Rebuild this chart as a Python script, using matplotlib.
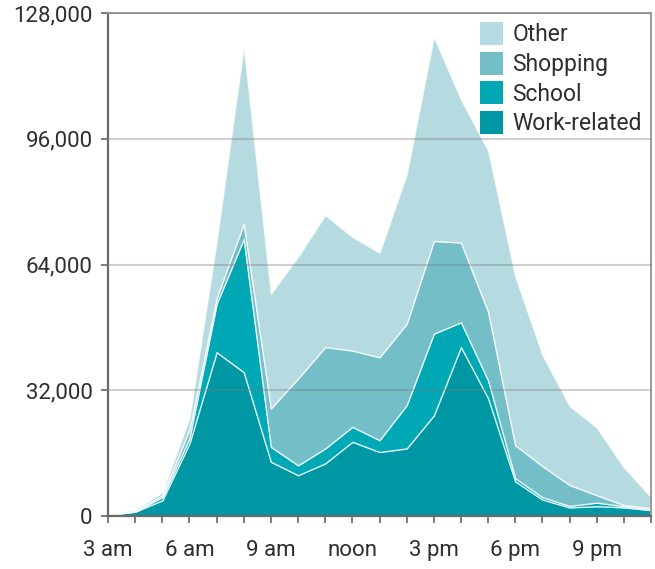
import matplotlib
matplotlib.use("Agg")
import matplotlib.pyplot as plt
from matplotlib.patches import Patch
from matplotlib.ticker import FuncFormatter

# Data (trips per hour), hours 3 am .. 11 pm
hours = list(range(3, 24))
work = [300, 1100, 4000, 18500, 41700, 36600, 13800, 10400, 13400, 18900, 16300,
        17200, 25600, 43000, 30000, 8800, 4200, 2200, 2500, 2200, 1500]
school = [0, 100, 800, 1300, 12300, 33900, 3800, 2500, 3800, 3800, 3000,
          11000, 20800, 6300, 4500, 800, 600, 400, 900, 300, 200]
shopping = [100, 100, 400, 2200, 1500, 3900, 9800, 22100, 25800, 19400, 21100,
            20700, 23600, 20300, 17500, 8400, 7900, 5300, 1900, 300, 300]
other = [100, 300, 800, 3000, 14500, 45100, 29200, 31000, 33600, 28900, 26600,
         38100, 52000, 36400, 41000, 43000, 28300, 20100, 17200, 9600, 2800]

series_names = ["Work-related", "School", "Shopping", "Other"]
colors = ["#0097A4", "#00A8B6", "#74BEC8", "#B5DADF"]

xtick_pos = [3, 6, 9, 12, 15, 18, 21]
xtick_labels = ["3 am", "6 am", "9 am", "noon", "3 pm", "6 pm", "9 pm"]
ytick_pos = [0, 32000, 64000, 96000, 128000]

plt.rcParams['font.family'] = ['Roboto', 'DejaVu Sans']
plt.rcParams['font.weight'] = 'normal'

fig = plt.figure(figsize=(6.55, 5.69), dpi=100)
ax = fig.add_axes([108/655, 1 - 516/569, (651 - 108)/655, (516 - 13)/569])

ax.stackplot(hours, work, school, shopping, other, colors=colors,
             edgecolor=(1, 1, 1, 0.75), linewidth=1.0, zorder=2)

ax.set_xlim(3, 23)
ax.set_ylim(0, 128000)

ax.set_xticks(hours, minor=True)
ax.set_xticks(xtick_pos)
ax.set_xticklabels(xtick_labels)
ax.set_yticks(ytick_pos)
ax.yaxis.set_major_formatter(FuncFormatter(lambda v, p: f"{int(v):,}"))

for y in ytick_pos[1:]:
    ax.axhline(y, color="#7a7a7a", alpha=0.35, lw=1.5, zorder=3)

ax.tick_params(axis="x", which="both", direction="out", length=5, width=1.2,
               color="#666666", labelsize=16, labelcolor="#2e2e2e", pad=12)
ax.tick_params(axis="y", direction="out", length=5, width=1.2, color="#666666",
               labelsize=16, labelcolor="#2e2e2e", pad=6)

for s in ["left", "bottom"]:
    ax.spines[s].set_color("#6a6a6a")
    ax.spines[s].set_linewidth(1.6)
for s in ["right", "top"]:
    ax.spines[s].set_color("#9a9a9a")
    ax.spines[s].set_linewidth(1.4)

handles = [Patch(facecolor=c, edgecolor="none") for c in colors[::-1]]
leg = ax.legend(handles, series_names[::-1], loc="upper right",
                bbox_to_anchor=(1.0, 1.0), frameon=False,
                fontsize=16.5, handlelength=1.0, handleheight=1.15,
                handletextpad=0.4, labelspacing=0.24, borderpad=0.3,
                borderaxespad=0.1)
for t in leg.get_texts():
    t.set_color("#2e2e2e")
leg.set_zorder(5)

fig.savefig("out.png", dpi=100)
